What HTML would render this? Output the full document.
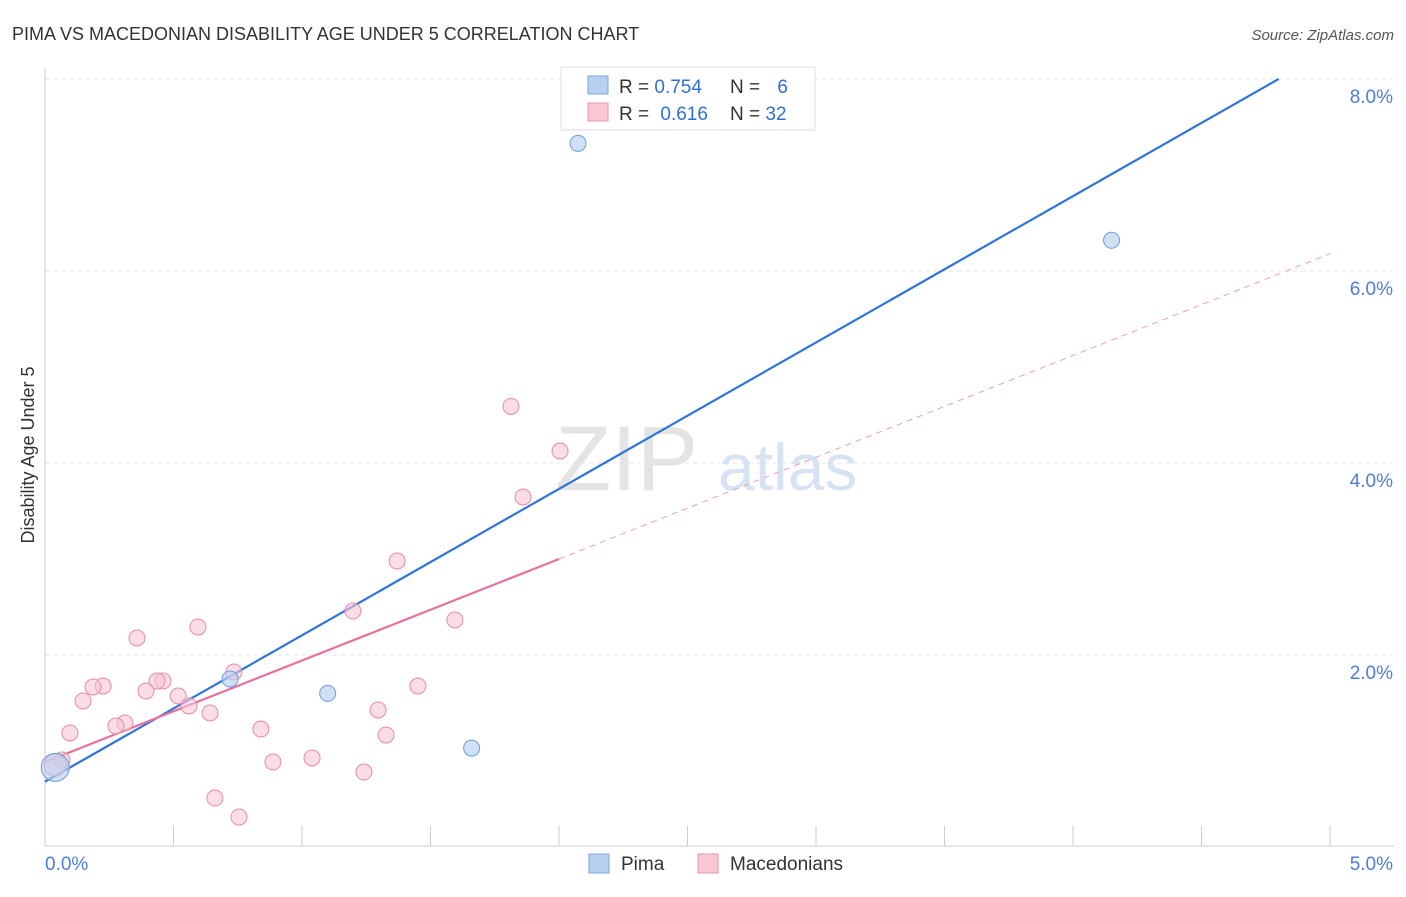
<!DOCTYPE html>
<html><head><meta charset="utf-8"><style>
body{margin:0;background:#fff;font-family:"Liberation Sans",sans-serif;}
svg text{font-family:"Liberation Sans",sans-serif;}
</style></head><body>
<svg id="chart" width="1406" height="892">
<text x="12" y="40" font-size="18" fill="#333">PIMA VS MACEDONIAN DISABILITY AGE UNDER 5 CORRELATION CHART</text>
<text x="1394" y="40" font-size="15" fill="#555" font-style="italic" text-anchor="end">Source: ZipAtlas.com</text>
<text x="34" y="455" font-size="18" fill="#333" transform="rotate(-90 34 455)" text-anchor="middle">Disability Age Under 5</text>
<g id="grid"></g>
<g id="watermark">
<text x="555" y="490" font-size="92" fill="#e4e4e4" font-family="Liberation Serif">ZIP</text>
<text x="718" y="490" font-size="66" fill="#d6e3f3">atlas</text>
</g>
<g id="lines"></g>
<g id="points"></g>
<g>
<rect x="561" y="67" width="254" height="63" fill="#fff" stroke="#ddd"/>
<rect x="588" y="76" width="20" height="18" fill="#b8d0f0" stroke="#7aa6e0"/>
<text x="619" y="93" font-size="19" fill="#333">R = <tspan fill="#2f6fd6">0.754</tspan></text>
<text x="730" y="93" font-size="19" fill="#333">N = <tspan fill="#2f6fd6" dx="12">6</tspan></text>
<rect x="588" y="103" width="20" height="18" fill="#f9c6d4" stroke="#e896b0"/>
<text x="619" y="120" font-size="19" fill="#333">R = <tspan fill="#2f6fd6" dx="6">0.616</tspan></text>
<text x="730" y="120" font-size="19" fill="#333">N = <tspan fill="#2f6fd6">32</tspan></text>
</g>
<g>
<rect x="589" y="854" width="20" height="19" fill="#b8d0f0" stroke="#7aa6e0"/>
<text x="621" y="870" font-size="19" fill="#333">Pima</text>
<rect x="698" y="854" width="20" height="19" fill="#f9c6d4" stroke="#e896b0"/>
<text x="730" y="870" font-size="19" fill="#333">Macedonians</text>
</g>
</svg>
<script>
const yTicks=[2,4,6,8];
const yTickLabels=["2.0%","4.0%","6.0%","8.0%"];
const xTickVals=[0,0.5,1,1.5,2,2.5,3,3.5,4,4.5,5];
const xEndLabels=["0.0%","5.0%"];
const pimaX=[2.074,4.15,1.10,1.66,0.72,0.04];
const pimaY=[7.33,6.32,1.60,1.03,1.75,0.83];
const pimaR=[8,8,8,8,8,14];
const macX=[1.813,2.004,1.860,1.370,1.198,1.595,0.358,0.595,0.735,0.459,0.436,0.226,0.187,0.393,0.518,0.148,0.560,0.642,1.296,1.451,0.311,0.276,0.097,0.840,1.327,1.039,0.887,1.241,0.066,0.039,0.661,0.755];
const macY=[4.59,4.125,3.646,2.979,2.458,2.365,2.177,2.292,1.823,1.729,1.729,1.677,1.667,1.625,1.573,1.521,1.469,1.396,1.427,1.677,1.292,1.260,1.188,1.229,1.167,0.927,0.885,0.781,0.906,0.854,0.510,0.313];
const pimaLine=[0,0.68,4.80,8.0];
const macLine=[0,0.885,2.0,3.0,5.0,6.18];
const NS="http://www.w3.org/2000/svg";
const X=v=>45+v*257, Y=v=>847-v*96;
function mk(t,a,p){const e=document.createElementNS(NS,t);for(const k in a)e.setAttribute(k,a[k]);p.appendChild(e);return e;}
const grid=document.getElementById('grid');
yTicks.forEach((t,i)=>{
 const l=mk('line',{x1:45,x2:1394,y1:Y(t),y2:Y(t),stroke:'#e6e6e6','stroke-dasharray':'4,4'},grid);
 
 
 const tx=mk('text',{x:1393,y:Y(t)+24,'font-size':19,fill:'#4a7fd4','text-anchor':'end'},grid);
 tx.textContent=yTickLabels[i];
 
 
});
const ax=mk('line',{x1:45,x2:1394,y1:846,y2:846,stroke:'#ccc'},grid);


const ay=mk('line',{x1:45,x2:45,y1:68,y2:846,stroke:'#ccc'},grid);


xTickVals.forEach(v=>{
 const t=mk('line',{x1:X(v),x2:X(v),y1:826,y2:846,stroke:'#ccc'},grid);
 
 
});
const xl0=mk('text',{x:45,y:870,'font-size':19,fill:'#4a7fd4'},grid);xl0.textContent=xEndLabels[0];


const xl1=mk('text',{x:1393,y:870,'font-size':19,fill:'#4a7fd4','text-anchor':'end'},grid);xl1.textContent=xEndLabels[1];


const lines=document.getElementById('lines');
const pl=mk('line',{x1:X(pimaLine[0]),y1:Y(pimaLine[1]),x2:X(pimaLine[2]),y2:Y(pimaLine[3]),stroke:'#2f74d8','stroke-width':2.2},lines);


const ml=mk('line',{x1:X(macLine[0]),y1:Y(macLine[1]),x2:X(macLine[2]),y2:Y(macLine[3]),stroke:'#e8709a','stroke-width':2.2},lines);


const md=mk('line',{x1:X(macLine[2]),y1:Y(macLine[3]),x2:X(macLine[4]),y2:Y(macLine[5]),stroke:'#e8a0b8','stroke-width':1,'stroke-dasharray':'6,5'},lines);


const pts=document.getElementById('points');
macX.forEach((v,i)=>{
 const c=mk('circle',{cx:X(v),cy:Y(macY[i]),r:i==29?11:8,fill:'#f9c6d4','fill-opacity':0.6,stroke:'#e68aa8','stroke-width':1},pts);
 
 
});
pimaX.forEach((v,i)=>{
 const c=mk('circle',{cx:X(v),cy:Y(pimaY[i]),r:pimaR[i],fill:'#b8d0f0','fill-opacity':0.65,stroke:'#6a9de0','stroke-width':1},pts);
 
 
});
</script>
</body></html>
